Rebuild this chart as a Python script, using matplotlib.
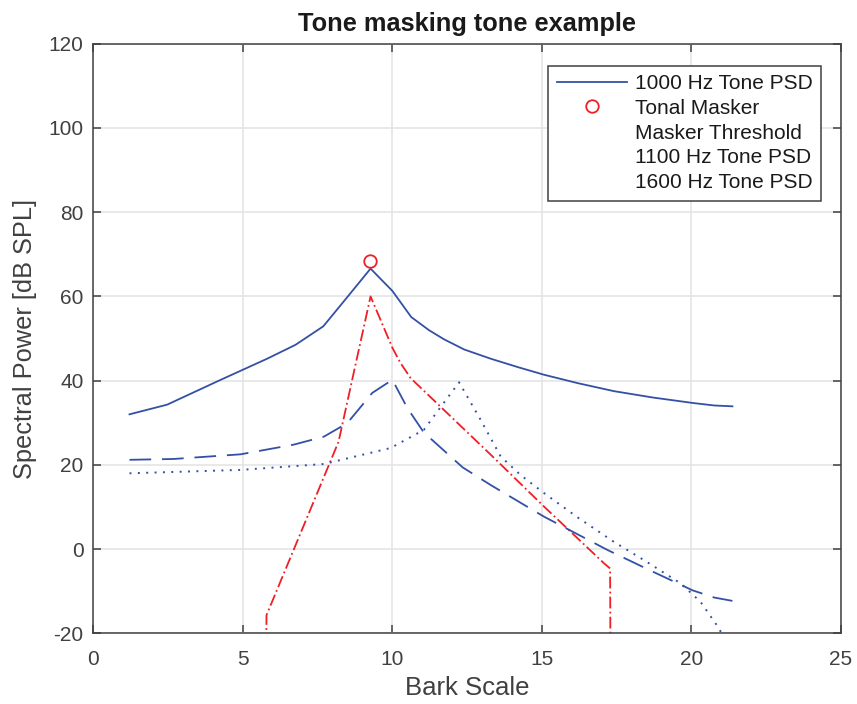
import matplotlib
matplotlib.use("Agg")
import matplotlib.pyplot as plt

plt.rcParams['font.family'] = ['Liberation Sans', 'DejaVu Sans']
plt.rcParams['axes.unicode_minus'] = False

# 1000 Hz tone PSD
bark_1000 = [1.21, 2.47, 4.2, 5.81, 6.76, 7.69, 8.5, 9.27, 10.0, 10.63, 11.22, 11.73,
             12.4, 13.29, 14.2, 15.07, 16.2, 17.41, 18.7, 20.04, 20.76, 21.37]
psd_1000 = [32.0, 34.3, 40.0, 45.2, 48.5, 52.9, 59.9, 66.6, 61.3, 55.1, 52.0, 49.8,
            47.4, 45.2, 43.2, 41.4, 39.4, 37.5, 36.0, 34.7, 34.1, 33.9]

# tonal masker
masker_bark = [9.25]
masker_db = [68.5]

# masker threshold
bark_thr = [5.77, 5.79, 8.2, 9.27, 10.0, 10.27, 10.61, 13.29, 15.07, 17.08, 17.28, 17.3]
thr_db = [-40, -15.7, 25.5, 60.0, 47.8, 44.2, 40.6, 22.4, 10.1, -3.4, -4.6, -40]

# 1100 Hz tone PSD
bark_1100 = [1.21, 2.69, 4.92, 6.70, 7.71, 8.49, 9.33, 10.0, 10.5, 11.05, 12.35, 13.29,
             15.07, 17.19, 18.6, 20.04, 20.76, 21.37]
psd_1100 = [21.2, 21.4, 22.5, 24.8, 26.7, 29.9, 37.1, 40.2, 33.5, 27.7, 19.4, 15.2,
            7.7, -0.2, -5.0, -9.8, -11.5, -12.3]

# 1600 Hz tone PSD
bark_1600 = [1.21, 4.92, 7.71, 9.94, 11.05, 11.6, 12.23, 12.95, 13.62, 14.3, 15.07,
             16.2, 17.41, 18.5, 19.65, 20.3, 20.93, 21.2]
psd_1600 = [18.0, 18.8, 20.2, 24.0, 28.3, 33.6, 39.6, 30.7, 22.0, 17.5, 13.3,
            7.5, 1.7, -3.0, -8.2, -12.5, -18.9, -23]

blue = '#3350a6'
red = '#ee1f26'
gray = '#404040'

fig = plt.figure(figsize=(8.57, 7.04), dpi=100)
ax = fig.add_axes([0.1089, 0.1004, 0.8724, 0.8375])

ax.plot(bark_1000, psd_1000, color=blue, lw=1.3, label='1000 Hz Tone PSD')
ax.plot(masker_bark, masker_db, 'o', mfc='none', mec=red, ms=9, mew=1.3,
        label='Tonal Masker')
ax.plot(bark_thr, thr_db, color=red, lw=1.3, dashes=(6.5, 1.8, 1, 1.8),
        label='Masker Threshold')
ax.plot(bark_1100, psd_1100, color=blue, lw=1.3, dashes=(12, 6),
        label='1100 Hz Tone PSD')
ax.plot(bark_1600, psd_1600, color=blue, lw=1.4, dashes=(1, 3.3),
        label='1600 Hz Tone PSD')

ax.set_xlim(0, 25)
ax.set_ylim(-20, 120)
ax.set_xticks(range(0, 26, 5))
ax.set_yticks(range(-20, 121, 20))
ax.grid(True, color='#e3e3e3', lw=1.1)
ax.set_axisbelow(True)
ax.tick_params(direction='in', length=5.5, width=1.1, colors=gray,
               labelsize=15, top=True, right=True, pad=7)
ax.tick_params(axis='x', pad=12)
for sp in ax.spines.values():
    sp.set_color(gray)
    sp.set_linewidth(1.1)

ax.set_xlabel('Bark Scale', fontsize=18.5, color=gray, labelpad=5)
ax.set_ylabel('Spectral Power [dB SPL]', fontsize=18.3, color=gray, labelpad=8)
ax.set_title('Tone masking tone example', fontsize=18.3, fontweight='bold',
             color='#1a1a1a', pad=9)

leg = ax.legend(loc='upper right', bbox_to_anchor=(0.973, 0.963), borderaxespad=0,
                fontsize=15, handlelength=3.4, handletextpad=0.35,
                labelspacing=0.28, borderpad=0.4, fancybox=False, framealpha=1,
                edgecolor=gray)
leg.get_frame().set_linewidth(1.1)
for h in leg.legend_handles[2:]:
    h.set_visible(False)
for t in leg.get_texts():
    t.set_color('#1a1a1a')

fig.savefig('out.png', dpi=100)
